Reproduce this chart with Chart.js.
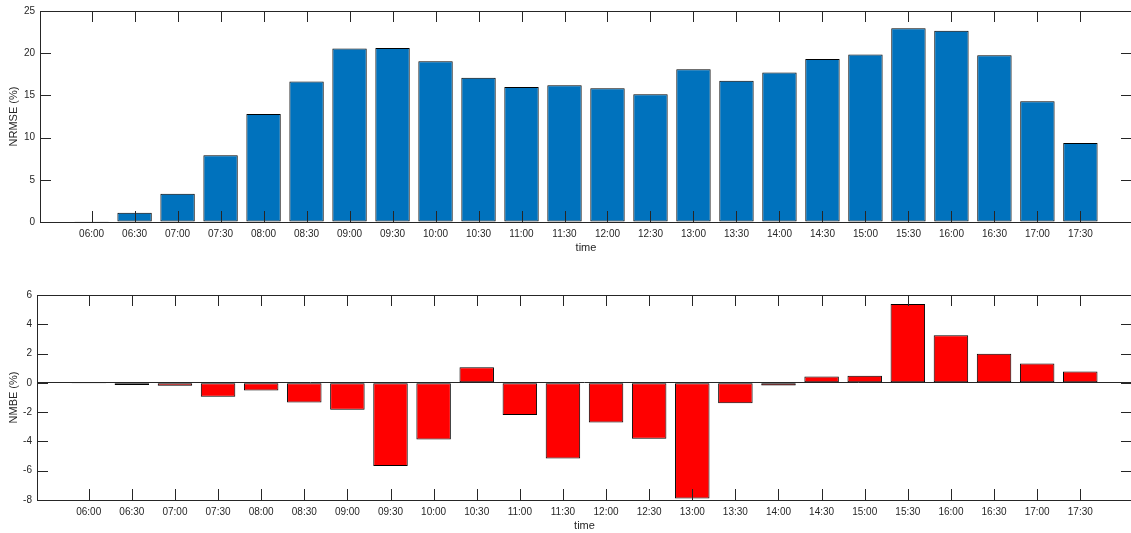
<!DOCTYPE html>
<html>
<head>
<meta charset="utf-8">
<script src="https://cdn.jsdelivr.net/npm/chart.js@4.4.1/dist/chart.umd.min.js"></script>
<style>
  html, body { margin: 0; padding: 0; background: #fff; overflow: hidden; }
  #wrap { position: relative; width: 1131px; height: 533px; overflow: hidden; }
  canvas { position: absolute; left: 0; }
</style>
</head>
<body>
<div id="wrap">
  <canvas id="top" width="1132" height="260" style="top:0px"></canvas>
  <canvas id="bottom" width="1132" height="260" style="top:278px"></canvas>
</div>
<script>
const timeLabels = ["06:00", "06:30", "07:00", "07:30", "08:00", "08:30", "09:00", "09:30",
  "10:00", "10:30", "11:00", "11:30", "12:00", "12:30", "13:00", "13:30",
  "14:00", "14:30", "15:00", "15:30", "16:00", "16:30", "17:00", "17:30"];

const nrmseValues = [0.1, 1.1, 3.35, 7.9, 12.8, 16.65, 20.55, 20.63,
  19.05, 17.1, 16.0, 16.2, 15.85, 15.15, 18.1, 16.75,
  17.7, 19.3, 19.85, 22.95, 22.65, 19.75, 14.3, 9.35];

const nmbeValues = [-0.05, -0.14, -0.2, -0.95, -0.52, -1.34, -1.84, -5.68,
  -3.86, 1.07, -2.2, -5.16, -2.7, -3.82, -7.9, -1.39,
  -0.18, 0.43, 0.48, 5.39, 3.25, 1.98, 1.32, 0.77];

const nrmseRange = { min: 0, max: 25, step: 5 };
const nmbeRange = { min: -8, max: 6, step: 2 };

const AXIS = "#262626";
const FONT = "'Liberation Sans', Arial, Helvetica, sans-serif";
const TICK = 11;

// matlab style box with ticks pointing inwards
const boxTicks = {
  id: "boxTicks",
  afterDatasetsDraw(chart) {
    const { ctx, chartArea: a, scales: { x, y } } = chart;
    ctx.save();
    ctx.strokeStyle = AXIS;
    ctx.lineWidth = 1;
    ctx.beginPath();
    x.ticks.forEach((t) => {
      const px = Math.round(x.getPixelForValue(t.value)) + 0.5;
      ctx.moveTo(px, a.bottom);
      ctx.lineTo(px, a.bottom - TICK);
      ctx.moveTo(px, a.top);
      ctx.lineTo(px, a.top + TICK);
    });
    y.ticks.forEach((t) => {
      const py = Math.round(y.getPixelForValue(t.value)) + 0.5;
      ctx.moveTo(a.left, py);
      ctx.lineTo(a.left + TICK, py);
      ctx.moveTo(a.right, py);
      ctx.lineTo(a.right - TICK, py);
    });
    ctx.stroke();
    ctx.strokeRect(Math.round(a.left) + 0.5, Math.round(a.top) + 0.5,
      Math.round(a.right - a.left) - 1, Math.round(a.bottom - a.top));
    ctx.restore();
  },
};

function makeChart(id, values, color, yTitle, range, leftWidth, topPad) {
  const points = values.map((v, i) => ({ x: i + 1, y: v }));
  return new Chart(document.getElementById(id), {
    type: "bar",
    data: {
      datasets: [{
        data: points,
        backgroundColor: color,
        borderColor: "#000",
        borderWidth: 1,
        borderSkipped: false,
        barPercentage: 0.8,
        categoryPercentage: 1,
      }],
    },
    options: {
      responsive: false,
      animation: false,
      layout: { padding: { top: topPad, right: 0, bottom: 0, left: 0 } },
      plugins: { legend: { display: false }, tooltip: { enabled: false } },
      scales: {
        x: {
          type: "linear",
          offset: false,
          min: -0.2,
          max: 25.2,
          afterBuildTicks: (s) => {
            s.ticks = timeLabels.map((_, i) => ({ value: i + 1 }));
          },
          afterFit: (s) => { s.height = 38; },
          grid: { display: false },
          border: { display: false },
          ticks: {
            autoSkip: false,
            maxRotation: 0,
            padding: -2,
            color: AXIS,
            font: { family: FONT, size: 10 },
            callback: (v) => timeLabels[v - 1],
          },
          title: {
            display: true,
            text: "time",
            color: AXIS,
            font: { family: FONT, size: 11 },
            padding: { top: 0, bottom: 5 },
          },
        },
        y: {
          min: range.min,
          max: range.max,
          afterFit: (s) => { s.width = leftWidth; },
          grid: {
            drawTicks: false,
            color: (c) => (c.tick && c.tick.value === 0 ? AXIS : "rgba(0,0,0,0)"),
          },
          border: { display: false },
          ticks: {
            stepSize: range.step,
            padding: 5,
            color: AXIS,
            font: { family: FONT, size: 10 },
          },
          title: {
            display: true,
            text: yTitle,
            color: AXIS,
            font: { family: FONT, size: 11 },
            padding: { top: 7, bottom: 0 },
          },
        },
      },
    },
    plugins: [boxTicks],
  });
}

makeChart("top", nrmseValues, "#0072BD", "NRMSE (%)", nrmseRange, 40, 10);
makeChart("bottom", nmbeValues, "#FF0000", "NMBE (%)", nmbeRange, 37, 17);
</script>
</body>
</html>
